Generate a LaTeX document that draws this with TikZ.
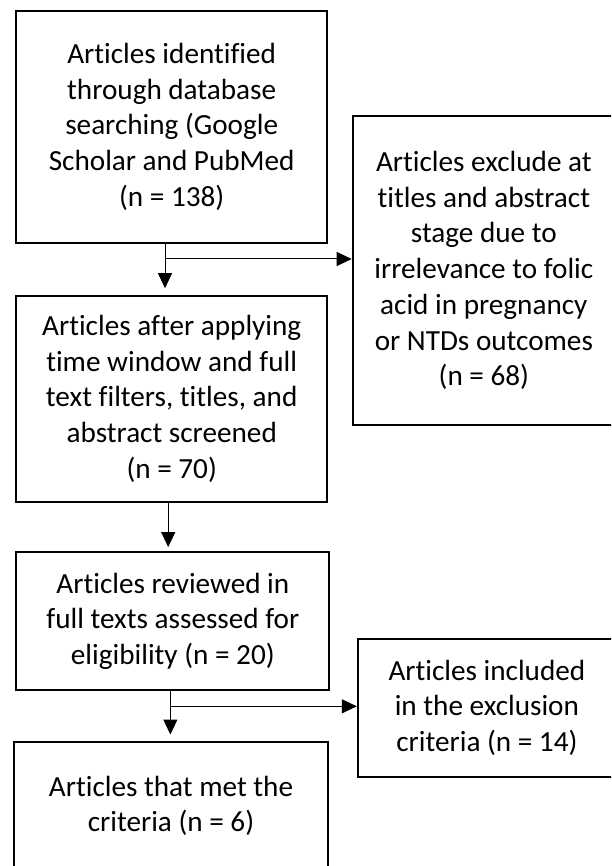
\documentclass[tikz,border=0pt]{standalone}
\usepackage{fontspec}
\setmainfont{Carlito}[Ligatures={NoCommon}]
\usetikzlibrary{arrows.meta,calc}
\tikzset{
  box/.style={draw=black, line width=2pt, inner sep=0pt, align=center,
    font=\fontsize{29.2}{35.7}\selectfont},
  arr/.style={line width=1pt, -{Triangle[length=15pt,width=14pt]}},
  seg/.style={line width=1pt}
}
\begin{document}
\begin{tikzpicture}[x=1pt,y=-1pt]
\useasboundingbox (0,0) rectangle (611,866);
\clip (0,0) rectangle (611,866);
\node[box, minimum width=310.6pt, minimum height=232pt] (b1) at (171.7,126.7)
  {Articles identified\\through database\\searching (Google\\Scholar and PubMed\\(n = 138)};
\node[box, minimum width=310.6pt, minimum height=206pt] (b2) at (171.7,398.7)
  {Articles after applying\\time window and full\\text filters, titles, and\\abstract screened\\(n = 70)};
\node[box, minimum width=312.9pt, minimum height=137.7pt] (b3) at (172.85,621.15)
  {Articles reviewed in\\full texts assessed for\\eligibility (n = 20)};
\node[box, minimum width=314pt, minimum height=128.3pt] (b4) at (171,805.85)
  {Articles that met the\\criteria (n = 6)};
\node[box, minimum width=262.3pt, minimum height=309pt] (r1) at (483.85,270.5)
  {Articles exclude at\\titles and abstract\\stage due to\\irrelevance to folic\\acid in pregnancy\\or NTDs outcomes\\(n = 68)};
\node[box, minimum width=258.2pt, minimum height=137.7pt] (r2) at (486.9,707.85)
  {Articles included\\in the exclusion\\criteria (n = 14)};
% arrows
\coordinate (t1) at ([xshift=-6.7pt]b1.south);
\coordinate (j1) at ($(t1)+(0,15.3)$);
\draw[arr, shorten >=6.5pt] (t1) -- (t1 |- b2.north);
\draw[arr] (j1) -- (j1 -| r1.west);
\coordinate (t2) at ([xshift=-3.5pt]b2.south);
\draw[arr, shorten >=4.2pt] (t2) -- (t2 |- b3.north);
\coordinate (t3) at ([xshift=-2.5pt]b3.south);
\coordinate (j3) at ($(t3)+(0,15.3)$);
\draw[arr, shorten >=6.2pt] (t3) -- (t3 |- b4.north);
\draw[arr] (j3) -- (j3 -| r2.west);
\end{tikzpicture}
\end{document}
